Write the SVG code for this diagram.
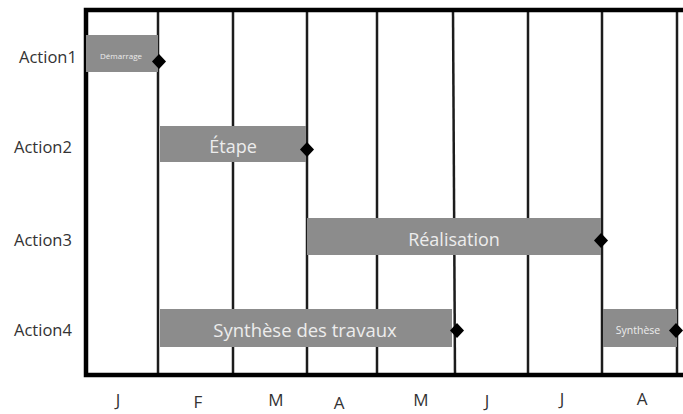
<svg xmlns="http://www.w3.org/2000/svg" width="683" height="414" viewBox="0 0 683 414">
<style>
.grid line{stroke:#1c1c1c;stroke-width:2.5}
.frame{stroke:#000;stroke-width:4.5;fill:none}
.bar{fill:#8c8c8c}
.bt{font-family:"Open Sans","Liberation Sans",sans-serif;fill:#ececec;text-anchor:middle}
.lbl{font-family:"Open Sans","Liberation Sans",sans-serif;fill:#333;font-size:16.5px}
.mon{font-family:"Open Sans","Liberation Sans",sans-serif;fill:#333;font-size:17px;text-anchor:middle}
.dia{fill:#000}
</style>
<rect width="683" height="414" fill="#fff"/>
<g id="grid" class="grid">
<line x1="158" y1="10" x2="158" y2="375"/>
<line x1="233" y1="10" x2="233" y2="375"/>
<line x1="307" y1="10" x2="307" y2="375"/>
<line x1="377" y1="10" x2="377" y2="375"/>
<line x1="453" y1="10" x2="455" y2="375"/>
<line x1="528" y1="10" x2="528" y2="375"/>
<line x1="602" y1="10" x2="602" y2="375"/>
<line x1="677" y1="10" x2="677" y2="375"/>
</g>
<g id="frame">
<path class="frame" d="M683 10 H86 V375 H683"/>
</g>
<g id="labels">
<text class="lbl" x="19" y="63">Action1</text>
<text class="lbl" x="14" y="153">Action2</text>
<text class="lbl" x="14" y="246">Action3</text>
<text class="lbl" x="14" y="336">Action4</text>
</g>
<g id="months">
<text class="mon" x="118" y="406">J</text>
<text class="mon" x="198" y="408">F</text>
<text class="mon" x="276" y="406">M</text>
<text class="mon" x="339" y="409">A</text>
<text class="mon" x="421" y="406">M</text>
<text class="mon" x="487" y="407">J</text>
<text class="mon" x="562" y="405">J</text>
<text class="mon" x="642" y="405">A</text>
</g>
<g id="action1">
<rect class="bar" x="86" y="35" width="72" height="37"/>
<text class="bt" x="121" y="59" font-size="8">Démarrage</text>
<path class="dia" d="M159 54 L166 61.5 L159 69 L152 61.5Z"/>
</g>
<g id="action2">
<rect class="bar" x="160" y="126" width="146" height="36"/>
<text class="bt" x="233" y="153" font-size="18">Étape</text>
<path class="dia" d="M307 142 L314 149.5 L307 157 L300 149.5Z"/>
</g>
<g id="action3">
<rect class="bar" x="307" y="218" width="294" height="37"/>
<text class="bt" x="454" y="246" font-size="18">Réalisation</text>
<path class="dia" d="M601 233 L608 240.5 L601 248 L594 240.5Z"/>
</g>
<g id="action4">
<rect class="bar" x="160" y="309" width="292" height="38"/>
<text class="bt" x="305" y="337" font-size="18.5">Synthèse des travaux</text>
<path class="dia" d="M457 323 L464 330.5 L457 338 L450 330.5Z"/>
</g>
<g id="action4b">
<rect class="bar" x="603" y="309" width="74" height="38"/>
<text class="bt" x="638" y="334" font-size="10.5">Synthèse</text>
<path class="dia" d="M676 323 L683 330.5 L676 338 L669 330.5Z"/>
</g>
</svg>
